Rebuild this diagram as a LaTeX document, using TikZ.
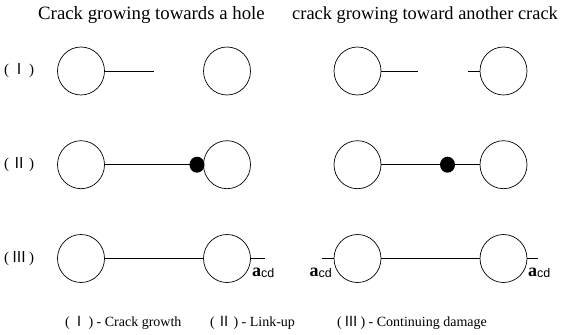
\documentclass[tikz,border=0pt]{standalone}
\usepackage{fontspec}
\setmainfont{Liberation Serif}
\setsansfont{Liberation Sans}
\newfontfamily\cjk{Noto Sans CJK SC}
\usetikzlibrary{shapes.geometric}
\tikzset{
  hole/.style={draw, ellipse, minimum width=47pt, minimum height=48pt, inner sep=0pt, line width=0.7pt},
  dotnode/.style={fill=black, ellipse, minimum width=15pt, minimum height=16pt, inner sep=0pt},
  crack/.style={line width=0.9pt},
  rowlabel/.style={anchor=west, font=\fontsize{15}{15}\selectfont, inner sep=0pt},
  title/.style={anchor=base west, inner sep=0pt},
  legend/.style={anchor=base west, font=\fontsize{14}{16}\selectfont, inner sep=0pt},
  acd/.style={inner sep=0pt, anchor=base west}
}
\newcommand{\rn}[1]{(\,{\cjk #1}\,)}
\newcommand{\acdtext}{{\fontsize{18}{18}\selectfont\bfseries a}\raisebox{-0.25ex}{\sffamily\fontsize{12.5}{12.5}\selectfont cd}}
\begin{document}
\begin{tikzpicture}[x=1pt,y=-1pt]
\useasboundingbox (0,0) rectangle (561,334);
% titles
\node[title, font=\fontsize{18.8}{20}\selectfont] (t1) at (38,20) {Crack growing towards a hole};
\node[title, font=\fontsize{18.4}{20}\selectfont] (t2) at (292,20) {crack growing toward another crack};
% row labels
\node[rowlabel] (l1) at (4,71) {\rn{Ⅰ}};
\node[rowlabel] (l2) at (4,164.7) {\rn{Ⅱ}};
\node[rowlabel] (l3) at (4,258.5) {\rn{Ⅲ}};
% Row I
\node[hole] (a1) at (81,71) {};
\node[hole] (b1) at (227,71) {};
\node[hole] (c1) at (357.5,71) {};
\node[hole] (d1) at (503.5,71) {};
\coordinate (a1e) at (153.5,71);
\coordinate (c1e) at (418,71);
\coordinate (d1w) at (468,71);
\draw[crack] (a1.east) -- (a1e);
\draw[crack] (c1.east) -- (c1e);
\draw[crack] (d1w) -- (d1.west);
% Row II
\node[hole] (a2) at (81,164.7) {};
\node[hole] (b2) at (227,164.7) {};
\node[hole] (c2) at (357.5,164.7) {};
\node[hole] (d2) at (503.5,164.7) {};
\draw[crack] (a2.east) -- (b2.west);
\draw[crack] (c2.east) -- (d2.west);
\node[dotnode] (p2) at (197,164.7) {};
\node[dotnode] (q2) at (447.5,164.7) {};
% Row III
\node[hole] (a3) at (81,258.5) {};
\node[hole] (b3) at (227,258.5) {};
\node[hole] (c3) at (357.5,258.5) {};
\node[hole] (d3) at (503.5,258.5) {};
\coordinate (b3e) at (264.5,258.5);
\coordinate (c3w) at (322,258.5);
\coordinate (d3e) at (537.5,258.5);
\draw[crack] (a3.east) -- (b3.west);
\draw[crack] (b3.east) -- (b3e);
\draw[crack] (c3w) -- (c3.west);
\draw[crack] (c3.east) -- (d3.west);
\draw[crack] (d3.east) -- (d3e);
\node[acd] (k1) at (252,276.5) {\acdtext};
\node[acd, anchor=base east] (k2) at (332,276.5) {\acdtext};
\node[acd] (k3) at (528,276.5) {\acdtext};
% legend
\node[legend] (g1) at (65,326) {\rn{Ⅰ} - Crack growth};
\node[legend] (g2) at (210,326) {\rn{Ⅱ} - Link-up};
\node[legend] (g3) at (337,326) {\rn{Ⅲ} - Continuing damage};
\end{tikzpicture}
\end{document}
